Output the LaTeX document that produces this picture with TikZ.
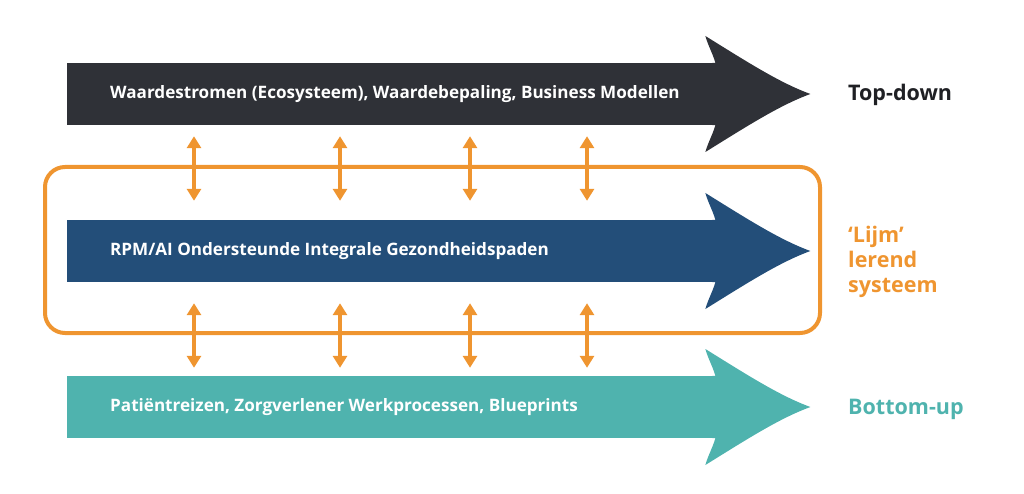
\documentclass[tikz,border=0pt]{standalone}
\usepackage{fontspec}
\setmainfont{Open Sans}
\usetikzlibrary{arrows.meta, calc, positioning}
\definecolor{topc}{HTML}{2F3137}
\definecolor{midc}{HTML}{234E79}
\definecolor{botc}{HTML}{4FB3AE}
\definecolor{gluec}{HTML}{EF9530}
\definecolor{labelc}{HTML}{1F2024}
\tikzset{
  bar/.style = {rectangle, anchor=west, minimum width=648pt, minimum height=62pt, inner sep=0pt, fill=#1},
  bartext/.style = {anchor=west, inner sep=0pt, text=white, font=\bfseries\fontsize{17.1}{20}\selectfont},
  sidelabel/.style = {anchor=west, inner sep=0pt, align=left, font=\bfseries\fontsize{21.5}{25}\selectfont, text=#1},
  glue/.style = {rectangle, rounded corners=20pt, draw=gluec, line width=4pt, minimum width=775pt, minimum height=166pt},
  dbl/.style = {draw=gluec, line width=3.5pt, {Triangle[width=14pt,length=12pt]}-{Triangle[width=14pt,length=12pt]}}
}
\newcommand{\arrowhead}[2]{%
  \fill[#2] ($(#1.north east)+(-3,0)$) -- (#1.north east)
    .. controls +(-3,-10) and +(2,8) .. ($(#1.east)+(-10,-58)$)
    .. controls +(45,28) and +(-30,-11) .. ($(#1.east)+(95,0)$)
    .. controls +(-30,11) and +(45,-28) .. ($(#1.east)+(-10,58)$)
    .. controls +(2,-8) and +(-3,10) .. (#1.south east) -- ++(-3,0) -- cycle;}
\begin{document}
\begin{tikzpicture}[x=1pt, y=-1pt]
  \useasboundingbox (0,0) rectangle (1024,494);

  \node [glue] (glue) at (432.5,250) {};

  \node [bar=topc] (topbar) at (67,94) {};
  \node [bar=midc] (midbar) at (67,251) {};
  \node [bar=botc] (botbar) at (67,407) {};
  \arrowhead{topbar}{topc}
  \arrowhead{midbar}{midc}
  \arrowhead{botbar}{botc}

  \node [bartext] (toptext) at ([xshift=43pt]topbar.west) {Waardestromen (Ecosysteem), Waardebepaling, Business Modellen};
  \node [bartext] (midtext) at ([xshift=43pt]midbar.west) {RPM/AI Ondersteunde Integrale Gezondheidspaden};
  \node [bartext] (bottext) at ([xshift=43pt]botbar.west) {Patiëntreizen, Zorgverlener Werkprocessen, Blueprints};

  \node [sidelabel=labelc] (topdown) at (848,95) {Top-down};
  \node [sidelabel=gluec] (lijm) at (848,262) {‘Lijm’\\lerend\\systeem};
  \node [sidelabel=botc] (bottomup) at (848,409) {Bottom-up};

  % links between the layers
  \foreach \x [count=\i] in {194,340,470,587} {
    \coordinate (col\i) at (\x,0);
    \draw [dbl, shorten <=11pt, shorten >=19pt] (topbar.south -| col\i) -- (midbar.north -| col\i);
    \draw [dbl, shorten <=21pt, shorten >=8pt] (midbar.south -| col\i) -- (botbar.north -| col\i);
  }
\end{tikzpicture}
\end{document}
